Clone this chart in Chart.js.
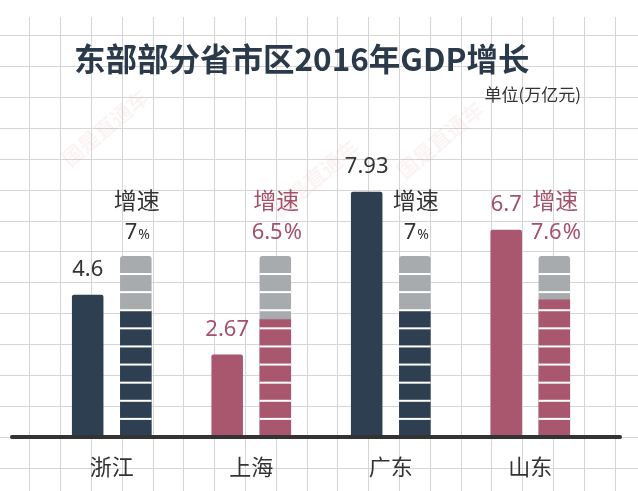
<!DOCTYPE html>
<html>
<head>
<meta charset="utf-8">
<script src="https://cdn.jsdelivr.net/npm/chart.js@4.4.0/dist/chart.umd.min.js"></script>
<style>
  html, body { margin: 0; padding: 0; background: #fff; }
  #wrap { width: 638px; height: 491px; position: relative; }
</style>
</head>
<body>
<div id="wrap"><canvas id="gdpChart"></canvas></div>
<script>
// Data
const provinces = ["浙江", "上海", "广东", "山东"];
const gdpValues = [4.6, 2.67, 7.93, 6.7];   // 万亿元
const growthRates = [7, 6.5, 7, 7.6];      // %
const growthFull = [10, 10, 10, 10];       // grey segmented column = 10%
const growthLabel = "增速";
const titleText = "东部部分省市区2016年GDP增长";
const unitText = "单位(万亿元)";
const watermarkText = "国是直通车";

// Styles
const NAVY = "#2e3f51";
const ROSE = "#a9566f";
const GREY = "#a7abae";
const barColors = [NAVY, ROSE, NAVY, ROSE];
const textColors = ["#333333", "#a4526b", "#333333", "#a4526b"];
const FONT = '"Noto Sans", "Noto Sans CJK SC", sans-serif';
const CJK = '"Noto Sans CJK SC", sans-serif';

// Background: graph paper, watermark, title
const paperGrid = {
  id: "paperGrid",
  beforeDraw(chart) {
    const { ctx, width, height } = chart;
    const y = chart.scales.y;
    ctx.save();
    ctx.fillStyle = "#fff";
    ctx.fillRect(0, 0, width, height);

    ctx.strokeStyle = "#d5d5d5";
    ctx.lineWidth = 1;
    ctx.beginPath();
    for (let v = -2; v <= 13; v++) {
      const py = Math.round(y.getPixelForValue(v)) + 0.5;
      ctx.moveTo(0, py);
      ctx.lineTo(width, py);
    }
    for (let px = 29.3; px < width; px += 30.8) {
      const x = Math.round(px) + 0.5;
      ctx.moveTo(x, 17);
      ctx.lineTo(x, height);
    }
    ctx.stroke();

    // faint watermarks
    ctx.fillStyle = "rgba(215, 120, 135, 0.09)";
    ctx.font = "bold 21px " + CJK;
    ctx.textAlign = "center";
    ctx.textBaseline = "middle";
    [[105, 128], [315, 178], [440, 140]].forEach(([wx, wy]) => {
      ctx.save();
      ctx.translate(wx, wy);
      ctx.rotate(-0.7);
      ctx.fillText(watermarkText, 0, 0);
      ctx.restore();
    });

    // title + unit
    ctx.fillStyle = "#2b3a4a";
    ctx.font = "bold 31.5px " + CJK;
    ctx.textAlign = "left";
    ctx.fillText(titleText, 74, 59);
    ctx.fillStyle = "#333";
    ctx.font = "17px " + CJK;
    ctx.textAlign = "right";
    ctx.fillText(unitText, 581, 95);
    ctx.restore();
  }
};

// Segment gaps, baseline and value labels
const barLabels = {
  id: "barLabels",
  afterDatasetsDraw(chart) {
    const { ctx } = chart;
    const y0 = chart.scales.y.getPixelForValue(0);
    const y2 = chart.scales.y2;
    const gdpMeta = chart.getDatasetMeta(0);
    const fullMeta = chart.getDatasetMeta(2);
    ctx.save();

    ctx.fillStyle = "#fff";
    fullMeta.data.forEach((bar, i) => {
      const left = bar.x - bar.width / 2;
      for (let k = 1; k < growthFull[i]; k++) {
        const py = y2.getPixelForValue(k);
        ctx.fillRect(left, py - 1, bar.width, 2);
      }
    });

    ctx.strokeStyle = "#333";
    ctx.lineWidth = 4;
    ctx.lineCap = "round";
    ctx.beginPath();
    ctx.moveTo(12, y0);
    ctx.lineTo(620, y0);
    ctx.stroke();

    ctx.textAlign = "center";
    ctx.textBaseline = "middle";
    gdpMeta.data.forEach((bar, i) => {
      ctx.fillStyle = textColors[i];
      ctx.font = "22px " + FONT;
      ctx.fillText(String(gdpValues[i]), bar.x, bar.y - 25);
    });

    fullMeta.data.forEach((bar, i) => {
      ctx.fillStyle = textColors[i];
      ctx.font = "23px " + FONT;
      ctx.textAlign = "center";
      ctx.fillText(growthLabel, bar.x + 1, bar.y - 53);
      // navy columns use a small % sign in the original
      const num = String(growthRates[i]);
      const pctSize = barColors[i] === NAVY ? 14 : 22;
      ctx.font = "22px " + FONT;
      const wNum = ctx.measureText(num).width;
      ctx.font = pctSize + "px " + FONT;
      const wPct = ctx.measureText("%").width;
      const x = bar.x + 1 - (wNum + wPct) / 2;
      ctx.textAlign = "left";
      ctx.textBaseline = "alphabetic";
      ctx.font = "22px " + FONT;
      ctx.fillText(num, x, bar.y - 17);
      ctx.font = pctSize + "px " + FONT;
      ctx.fillText("%", x + wNum + 1, bar.y - 17);
      ctx.textBaseline = "middle";
    });
    ctx.restore();
  }
};

new Chart(document.getElementById("gdpChart"), {
  type: "bar",
  data: {
    labels: provinces,
    datasets: [
      {
        label: "GDP",
        data: gdpValues,
        yAxisID: "y",
        stack: "gdp",
        backgroundColor: barColors,
        borderRadius: { topLeft: 2, topRight: 2 },
        borderSkipped: "bottom"
      },
      {
        label: "增速",
        data: growthRates,
        yAxisID: "y2",
        stack: "growth",
        backgroundColor: barColors,
        borderSkipped: "bottom"
      },
      {
        label: "10%",
        data: growthFull,
        yAxisID: "y3",
        stack: "growth",
        backgroundColor: GREY,
        borderRadius: { topLeft: 3, topRight: 3 },
        borderSkipped: "bottom"
      }
    ]
  },
  options: {
    responsive: true,
    maintainAspectRatio: false,
    animation: false,
    events: [],
    layout: { padding: { left: 42, right: 38, top: 35, bottom: 0 } },
    datasets: { bar: { categoryPercentage: 0.69, barPercentage: 0.655 } },
    plugins: {
      legend: { display: false },
      tooltip: { enabled: false },
      title: { display: false }
    },
    scales: {
      x: {
        grid: { display: false },
        border: { display: false },
        ticks: { color: "#333", font: { size: 22, family: CJK }, padding: 8 },
        afterFit: (axis) => { axis.height = 54; }
      },
      y: { display: false, min: 0, max: 13 },
      y2: { display: false, min: 0, max: 22.2, stacked: true },
      y3: { display: false, min: 0, max: 22.2 }
    }
  },
  plugins: [paperGrid, barLabels]
});
</script>
</body>
</html>
